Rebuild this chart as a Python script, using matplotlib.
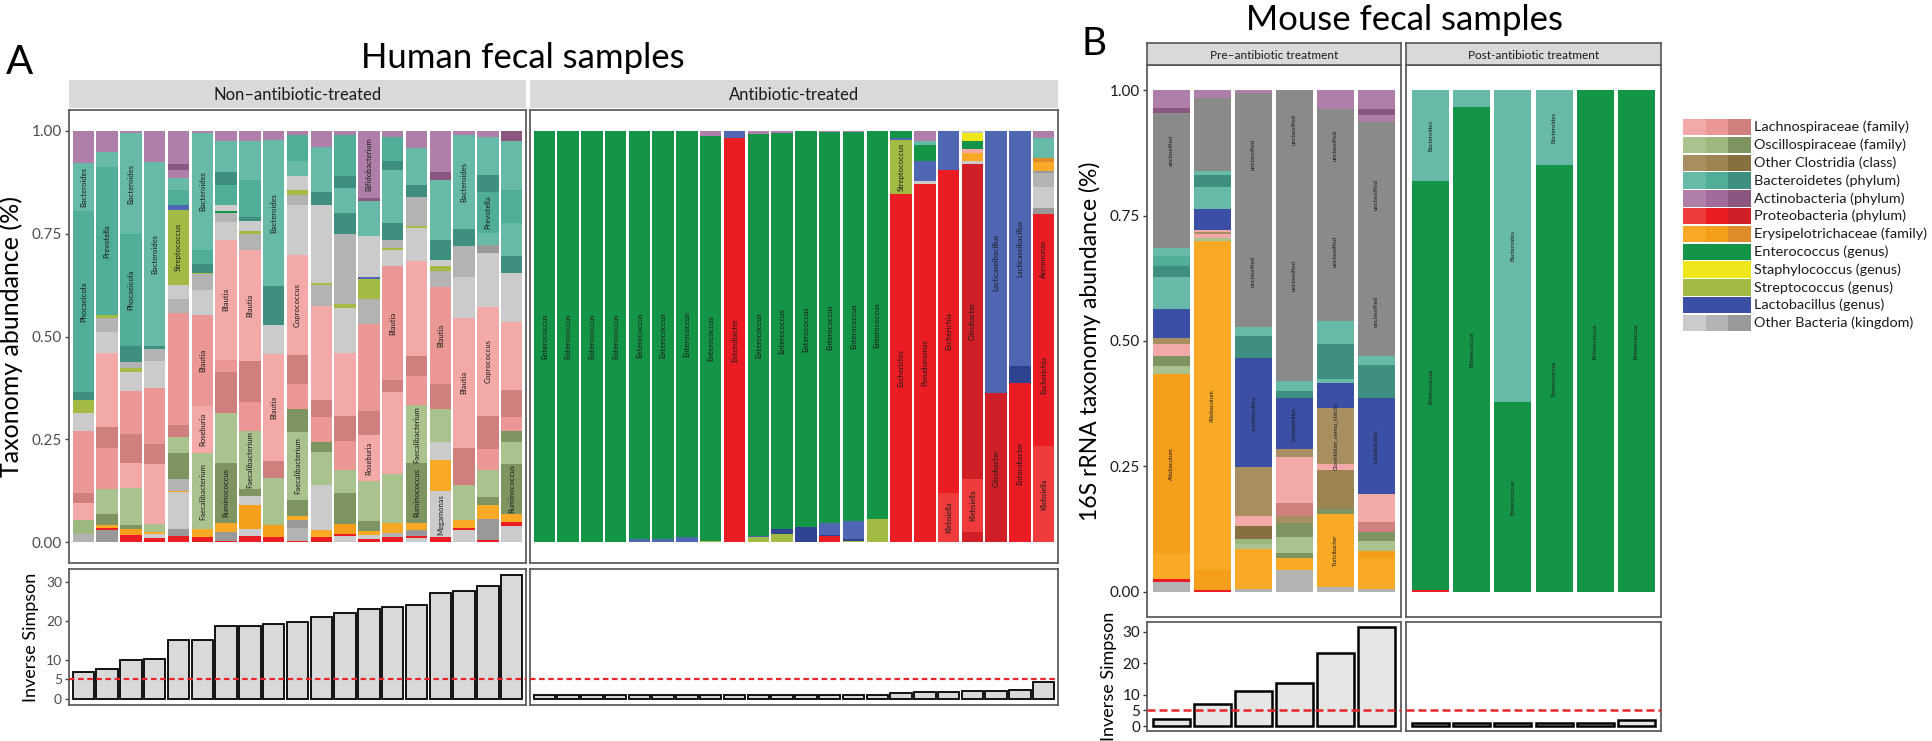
import matplotlib
matplotlib.use("Agg")
import matplotlib.pyplot as plt
from matplotlib.patches import Rectangle

plt.rcParams['font.family'] = ['Lato', 'DejaVu Sans']

# ---------------- colours per taxon group / shade ----------------
COLORS = {
    'L1': '#f2a9a8', 'L2': '#ea9795', 'L3': '#cf7f7d',
    'O1': '#aac28e', 'O2': '#9db87f', 'O3': '#7e9562',
    'C1': '#a88f62', 'C2': '#9b8352', 'C3': '#86703f',
    'B1': '#67baa7', 'B2': '#4fad98', 'B3': '#3f8f80',
    'A1': '#b07fa9', 'A2': '#a06b98', 'A3': '#8b5680',
    'P1': '#ef3b3b', 'P2': '#ec1c24', 'P3': '#d01f26',
    'E1': '#f8aa26', 'E2': '#f59e1b', 'E3': '#dd8c2a',
    'N': '#149447', 'S': '#efe71c', 'T': '#a3bb45',
    'K1': '#4f66b2', 'K2': '#2f4390', 'K3': '#3b4fa5',
    'G1': '#cbcbcb', 'G2': '#b3b3b3', 'G3': '#999999',
    'U': '#8a8a8a',
}

LEGEND_LABELS = ['Lachnospiraceae (family)', 'Oscillospiraceae (family)',
                 'Other Clostridia (class)', 'Bacteroidetes (phylum)',
                 'Actinobacteria (phylum)', 'Proteobacteria (phylum)',
                 'Erysipelotrichaceae (family)', 'Enterococcus (genus)',
                 'Staphylococcus (genus)', 'Streptococcus (genus)',
                 'Lactobacillus (genus)', 'Other Bacteria (kingdom)']
LEGEND_CODES = [['L1', 'L2', 'L3'], ['O1', 'O2', 'O3'], ['C1', 'C2', 'C3'],
                ['B1', 'B2', 'B3'], ['A1', 'A2', 'A3'], ['P1', 'P2', 'P3'],
                ['E1', 'E2', 'E3'], ['N'], ['S'], ['T'], ['K3'],
                ['G1', 'G2', 'G3']]

# ---------------- Human, non-antibiotic-treated (bottom -> top) ----------------
human_non = [
    [('G2', .02), ('O2', .035), ('L1', .04), ('L3', .025), ('L2', .15), ('G1', .045), ('T', .03), ('B3', .02),
     ('B2', .44, 'Phocaeicola'), ('B1', .117, 'Bacteroides'), ('A1', .078)],
    [('G3', .03), ('P2', .005), ('E1', .008), ('O3', .025), ('O1', .062), ('L2', .1), ('L3', .05), ('L1', .18),
     ('G1', .05), ('G2', .035), ('T', .007), ('B2', .36, 'Prevotella'), ('B1', .035), ('A1', .053)],
    [('P2', .018), ('E2', .015), ('O3', .01), ('O1', .09), ('L1', .06), ('L3', .07), ('L2', .105), ('G1', .045),
     ('T', .01), ('G2', .015), ('B3', .04), ('B2', .27, 'Phocaeicola'), ('B1', .245, 'Bacteroides'), ('A1', .007)],
    [('P2', .01), ('G1', .01), ('E1', .005), ('O1', .02), ('L1', .145), ('L3', .05), ('L2', .135), ('G1', .065),
     ('G2', .03), ('B3', .008), ('B1', .445, 'Bacteroides'), ('A1', .077)],
    [('P2', .016), ('G3', .016), ('G1', .09), ('E2', .004), ('G2', .027), ('O3', .063), ('O1', .04), ('L3', .03),
     ('L2', .27), ('G2', .035), ('G1', .034), ('T', .183, 'Streptococcus'), ('K1', .012), ('B2', .035),
     ('B1', .03), ('A1', .02), ('A3', .015), ('A1', .08)],
    [('P2', .012), ('E1', .02), ('O1', .185, 'Faecalibacterium'), ('L1', .115, 'Roseburia'), ('L2', .22, 'Blautia'),
     ('G1', .06), ('G2', .04), ('T', .003), ('B3', .02), ('B2', .035), ('B1', .285, 'Bacteroides'), ('A1', .005)],
    [('P2', .004), ('G3', .022), ('E1', .02), ('O3', .148, 'Ruminococcus'), ('O1', .12), ('L3', .1), ('L2', .03),
     ('L1', .29, 'Blautia'), ('G1', .045), ('G2', .02), ('N', .005), ('G1', .015), ('B2', .05), ('B3', .03),
     ('B1', .075), ('A1', .026)],
    [('P2', .016), ('G1', .016), ('E2', .06), ('G1', .02), ('O3', .018), ('O1', .14, 'Faecalibacterium'),
     ('L2', .07), ('L3', .1), ('L1', .27, 'Blautia'), ('G2', .04), ('T', .005), ('G1', .025), ('B3', .01),
     ('B2', .09), ('B1', .095), ('A1', .025)],
    [('P2', .012), ('E2', .03), ('O1', .115), ('L3', .04), ('L1', .26, 'Blautia'), ('G1', .07), ('B3', .095),
     ('B1', .355, 'Bacteroides'), ('A1', .023)],
    [('P2', .004), ('G2', .03), ('G3', .02), ('E1', .01), ('O3', .04), ('O1', .165, 'Faecalibacterium'),
     ('O3', .055), ('L2', .06), ('L3', .07), ('L1', .245, 'Coprococcus'), ('G1', .12), ('G2', .024), ('T', .012),
     ('G1', .035), ('B1', .035), ('B2', .065), ('A1', .01)],
    [('P2', .012), ('E1', .018), ('G1', .11), ('O1', .08), ('O3', .025), ('L2', .06), ('L3', .04), ('L1', .23),
     ('G2', .05), ('T', .005), ('G1', .19), ('B3', .03), ('B1', .11), ('A1', .04)],
    [('G1', .015), ('P2', .005), ('E2', .025), ('O3', .075), ('O1', .057), ('L2', .07), ('L3', .06), ('L1', .153),
     ('G1', .11), ('T', .01), ('G2', .17), ('B3', .05), ('B1', .06), ('B3', .03), ('B2', .1), ('A1', .01)],
    [('P2', .008), ('G1', .01), ('E1', .01), ('O3', .025), ('O1', .097), ('L1', .11, 'Roseburia'), ('L3', .06),
     ('L2', .21), ('G2', .06), ('T', .05), ('K1', .005), ('G1', .1), ('B1', .085), ('A3', .006),
     ('A1', .164, 'Bifidobacterium')],
    [('P2', .012), ('G2', .01), ('E1', .025), ('O1', .118), ('L1', .2), ('L3', .03), ('L2', .275, 'Blautia'),
     ('G1', .04), ('T', .005), ('G2', .02), ('B3', .04), ('B1', .13), ('B3', .02), ('B2', .06), ('A1', .015)],
    [('G1', .01), ('P2', .005), ('G3', .015), ('E1', .018), ('O3', .145, 'Ruminococcus'),
     ('O1', .14, 'Faecalibacterium'), ('L2', .07), ('L3', .05), ('L1', .23), ('G1', .08), ('T', .005),
     ('G2', .07), ('B3', .03), ('B1', .09), ('A1', .042)],
    [('P2', .012), ('G1', .113, 'Megamonas'), ('E1', .075), ('G1', .045), ('O1', .08), ('L3', .06),
     ('L2', .235, 'Blautia'), ('G2', .04), ('T', .01), ('G1', .015), ('B3', .05), ('B1', .145), ('A3', .02),
     ('A1', .1)],
    [('G1', .03), ('P2', .005), ('E1', .02), ('O1', .085), ('L3', .09), ('L1', .315, 'Blautia'), ('G1', .1),
     ('G2', .075), ('B3', .04), ('B1', .23, 'Bacteroides'), ('A1', .01)],
    [('P2', .006), ('G3', .05), ('E1', .035), ('O3', .02), ('O1', .066), ('L2', .05), ('L3', .08),
     ('L1', .265, 'Coprococcus'), ('G1', .13), ('G3', .02), ('B1', .03), ('B2', .1, 'Prevotella'), ('B3', .04),
     ('B1', .092), ('A1', .016)],
    [('G1', .04), ('P2', .01), ('E1', .02), ('O3', .12, 'Ruminococcus'), ('O1', .055), ('O3', .025), ('L2', .035),
     ('L3', .065), ('L1', .165), ('G1', .12), ('B3', .04), ('B1', .08), ('B2', .08), ('B1', .12), ('A3', .025)],
]

# ---------------- Human, antibiotic-treated ----------------
human_abx = [
    [('N', 1.0, 'Enterococcus')],
    [('N', 1.0, 'Enterococcus')],
    [('N', 1.0, 'Enterococcus')],
    [('N', 1.0, 'Enterococcus')],
    [('K1', .008), ('N', .992, 'Enterococcus')],
    [('K1', .008), ('N', .992, 'Enterococcus')],
    [('K1', .012), ('N', .988, 'Enterococcus')],
    [('T', .004), ('N', .984, 'Enterococcus'), ('A1', .012)],
    [('P2', .982, 'Enterobacter'), ('K1', .018)],
    [('T', .013), ('K1', .003), ('N', .976, 'Enterococcus'), ('A1', .008)],
    [('T', .02), ('K2', .012), ('N', .963, 'Enterococcus'), ('A1', .005)],
    [('K2', .037), ('N', .963, 'Enterococcus')],
    [('P2', .015), ('K2', .003), ('K1', .03), ('N', .948, 'Enterococcus'), ('A1', .004)],
    [('T', .003), ('K2', .005), ('K1', .045), ('N', .943, 'Enterococcus'), ('A1', .004)],
    [('T', .058), ('N', .94, 'Enterococcus'), ('A1', .002)],
    [('P2', .847, 'Escherichia'), ('T', .13, 'Streptococcus'), ('K1', .005), ('N', .018)],
    [('P2', .871, 'Pseudomonas'), ('G1', .006), ('K1', .05), ('N', .037), ('B1', .01), ('A1', .026)],
    [('P1', .12, 'Klebsiella'), ('P2', .785, 'Escherichia'), ('K1', .095)],
    [('P3', .025), ('P1', .13, 'Klebsiella'), ('P3', .765, 'Citrobacter'), ('G1', .005), ('E1', .02),
     ('L1', .01), ('N', .02), ('S', .02), ('G1', .005)],
    [('P3', .362, 'Citrobacter'), ('K1', .638, 'Lacticaseibacillus')],
    [('P2', .386, 'Enterobacter'), ('K2', .043), ('K1', .571, 'Lacticaseibacillus')],
    [('P1', .235, 'Klebsiella'), ('P2', .345, 'Escherichia'), ('P2', .218, 'Aeromonas'), ('G3', .015),
     ('G1', .05), ('G2', .035), ('G3', .005), ('E1', .02), ('E3', .01), ('B1', .05), ('A1', .017)],
]

# ---------------- Mouse ----------------
mouse_pre = [
    [('G2', .02), ('P2', .005), ('E1', .05), ('E2', .36, 'Allobaculum'), ('O1', .015), ('O3', .02), ('L1', .025),
     ('C1', .01), ('K3', .059), ('B1', .063), ('B3', .023), ('B2', .019), ('B1', .016), ('U', .12),
     ('U', .15, 'unclassified'), ('A3', .01), ('A1', .035)],
    [('P2', .004), ('E2', .04), ('E1', .656, 'Allobaculum'), ('O1', .006), ('L1', .007), ('C1', .004),
     ('L1', .005), ('K3', .042), ('B1', .042), ('B3', .024), ('B1', .008), ('U', .147), ('A1', .015)],
    [('G2', .005), ('E1', .08), ('O1', .01), ('O2', .01), ('C3', .027), ('L1', .019), ('C1', .097),
     ('K3', .219, 'Lactobacillus'), ('B3', .043), ('B1', .018), ('U', .222, 'unclassified'),
     ('U', .245, 'unclassified'), ('A1', .005)],
    [('G2', .044), ('E1', .023), ('O3', .011), ('O1', .031), ('O3', .028), ('C1', .014), ('L3', .026),
     ('L1', .092), ('C1', .015), ('K3', .103, 'Lactobacillus'), ('B3', .013), ('B1', .021),
     ('U', .42, 'unclassified'), ('U', .159, 'unclassified')],
    [('G2', .01), ('E1', .145, 'Turicibacter'), ('O3', .01), ('C2', .077), ('L1', .013),
     ('C1', .111, 'Clostridium_sensu_stricto'), ('K3', .051), ('B1', .008), ('B3', .069), ('B1', .045),
     ('U', .28, 'unclassified'), ('U', .143, 'unclassified'), ('A1', .038)],
    [('G2', .005), ('E1', .062), ('E2', .015), ('O1', .019), ('O3', .019), ('L3', .019), ('L1', .057),
     ('K3', .191, 'Lactobacillus'), ('B3', .065), ('B1', .019), ('U', .175, 'unclassified'),
     ('U', .291, 'unclassified'), ('A1', .013), ('A3', .013), ('A1', .037)],
]
mouse_post = [
    [('P2', .003), ('N', .815, 'Enterococcus'), ('B1', .182, 'Bacteroides')],
    [('N', .966, 'Enterococcus'), ('B1', .034)],
    [('N', .379, 'Enterococcus'), ('B1', .621, 'Bacteroides')],
    [('N', .851, 'Enterococcus'), ('B1', .149, 'Bacteroides')],
    [('N', 1.0, 'Enterococcus')],
    [('N', 1.0, 'Enterococcus')],
]

# ---------------- Inverse Simpson ----------------
invsimp_human_non = [6.8, 7.7, 10.0, 10.3, 15.0, 15.1, 18.7, 18.7, 19.2, 19.6, 21.0, 21.9, 23.1, 23.5,
                     24.0, 27.2, 27.6, 28.9, 31.7]
invsimp_human_abx = [1.0, 1.0, 1.0, 1.0, 1.0, 1.0, 1.0, 1.0, 1.0, 1.0, 1.0, 1.0, 1.0, 1.0, 1.0,
                     1.45, 1.7, 1.7, 1.9, 2.0, 2.25, 4.3]
invsimp_mouse_pre = [2.4, 7.1, 11.3, 13.7, 23.3, 31.6]
invsimp_mouse_post = [1.0, 1.0, 1.0, 1.1, 1.1, 1.9]
INV_TICKS = [0, 5, 10, 20, 30]
THRESHOLD = 5

W, H = 1933, 741
fig = plt.figure(figsize=(W / 100, H / 100), dpi=100)


def px_axes(x0, y0, x1, y1):
    return fig.add_axes([x0 / W, 1 - y1 / H, (x1 - x0) / W, (y1 - y0) / H])


def style_frame(ax, color='#5e5e5e', lw=1.3):
    for s in ax.spines.values():
        s.set_color(color)
        s.set_linewidth(lw)
    ax.set_xticks([])


def draw_stack(ax, samples, label_size):
    for i, segs in enumerate(samples, start=1):
        bottom = 0.0
        for seg in segs:
            code, val = seg[0], seg[1]
            ax.bar(i, val, bottom=bottom, width=0.9, color=COLORS[code], linewidth=0)
            if len(seg) > 2:
                ax.text(i, bottom + val / 2, seg[2], rotation=90, ha='center', va='center',
                        fontsize=label_size, color='#1a1a1a')
            bottom += val
    ax.set_xlim(0.4, len(samples) + 0.6)
    ax.set_ylim(-0.05, 1.05)
    style_frame(ax)


def draw_inv(ax, values, ymax, fill, elw):
    x = list(range(1, len(values) + 1))
    ax.bar(x, values, width=0.9, color=fill, edgecolor='black', linewidth=elw)
    ax.set_xlim(0.4, len(values) + 0.6)
    ax.set_ylim(-0.05 * ymax, 1.05 * ymax)
    style_frame(ax)


def strip(x0, y0, x1, y1, text, size, border):
    ax = px_axes(x0, y0, x1, y1)
    ax.set_facecolor('#d9d9d9')
    ax.set_xticks([]); ax.set_yticks([])
    for s in ax.spines.values():
        s.set_visible(border)
        s.set_color('#555555')
        s.set_linewidth(1.2)
    ax.text(0.5, 0.45, text, ha='center', va='center', fontsize=size, color='#1a1a1a',
            transform=ax.transAxes)


# ================= Panel A =================
a_top_l = px_axes(69, 110, 526, 563)
a_top_r = px_axes(530, 110, 1058, 563)
draw_stack(a_top_l, human_non, 5.5)
draw_stack(a_top_r, human_abx, 5.5)
a_top_l.set_yticks([0, 0.25, 0.5, 0.75, 1.0])
a_top_l.set_yticklabels(['0.00', '0.25', '0.50', '0.75', '1.00'])
a_top_l.tick_params(axis='y', length=3, width=1, color='#444444', labelsize=11,
                    labelcolor='#4d4d4d', pad=2)
a_top_r.set_yticks([])
a_top_l.set_ylabel('Taxonomy abundance (%)', fontsize=18, labelpad=6)

ymax_a = max(invsimp_human_non + invsimp_human_abx)
a_bot_l = px_axes(69, 569, 526, 705)
a_bot_r = px_axes(530, 569, 1058, 705)
draw_inv(a_bot_l, invsimp_human_non, ymax_a, '#d9d9d9', 1.3)
draw_inv(a_bot_r, invsimp_human_abx, ymax_a, '#d9d9d9', 1.3)
for ax in (a_bot_l, a_bot_r):
    ax.axhline(THRESHOLD, color='#e8262b', lw=1.6, ls=(0, (2.5, 1.6)), zorder=3)
a_bot_l.set_yticks(INV_TICKS)
a_bot_l.tick_params(axis='y', length=3, width=1, color='#444444', labelsize=10,
                    labelcolor='#4d4d4d', pad=2)
a_bot_r.set_yticks([])
a_bot_l.set_ylabel('Inverse Simpson', fontsize=13, labelpad=5)

strip(69, 80, 526, 108, 'Non–antibiotic-treated', 12, False)
strip(530, 80, 1058, 108, 'Antibiotic-treated', 12, False)

fig.text(523 / W, 1 - 68 / H, 'Human fecal samples', ha='center', va='baseline', fontsize=25)
fig.text(6 / W, 1 - 74 / H, 'A', ha='left', va='baseline', fontsize=29)

# ================= Panel B =================
b_top_l = px_axes(1147, 65, 1401, 617)
b_top_r = px_axes(1406, 65, 1661, 617)
draw_stack(b_top_l, mouse_pre, 4.3)
draw_stack(b_top_r, mouse_post, 4.3)
b_top_l.set_yticks([0, 0.25, 0.5, 0.75, 1.0])
b_top_l.set_yticklabels(['0.00', '0.25', '0.50', '0.75', '1.00'])
b_top_l.tick_params(axis='y', length=3, width=1, color='#333333', labelsize=11,
                    labelcolor='#1a1a1a', pad=2)
b_top_r.set_yticks([])
b_top_l.set_ylabel('16S rRNA taxonomy abundance (%)', fontsize=16.5, labelpad=6)

ymax_b = max(invsimp_mouse_pre + invsimp_mouse_post)
b_bot_l = px_axes(1147, 622, 1401, 731)
b_bot_r = px_axes(1406, 622, 1661, 731)
draw_inv(b_bot_l, invsimp_mouse_pre, ymax_b, '#e6e6e6', 1.8)
draw_inv(b_bot_r, invsimp_mouse_post, ymax_b, '#e6e6e6', 1.8)
for ax in (b_bot_l, b_bot_r):
    ax.axhline(THRESHOLD, color='#e8262b', lw=1.8, ls=(0, (3.2, 1.6)), zorder=3)
b_bot_l.set_yticks(INV_TICKS)
b_bot_l.tick_params(axis='y', length=3, width=1, color='#333333', labelsize=11,
                    labelcolor='#1a1a1a', pad=2)
b_bot_r.set_yticks([])
b_bot_l.set_ylabel('Inverse Simpson', fontsize=13, labelpad=4)

strip(1147, 43, 1401, 65, 'Pre–antibiotic treatment', 8.5, True)
strip(1406, 43, 1661, 65, 'Post-antibiotic treatment', 8.5, True)

fig.text(1405 / W, 1 - 30 / H, 'Mouse fecal samples', ha='center', va='baseline', fontsize=25)
fig.text(1082 / W, 1 - 55 / H, 'B', ha='left', va='baseline', fontsize=28)

# ================= Legend =================
pitch = 17.8
leg = px_axes(1683, 119, 1933, 119 + pitch * len(LEGEND_LABELS))
leg.set_xlim(0, 250)
leg.set_ylim(pitch * len(LEGEND_LABELS), 0)
leg.axis('off')
sw = 68.0
for i, (lab, codes) in enumerate(zip(LEGEND_LABELS, LEGEND_CODES)):
    y0 = i * pitch
    w = sw / len(codes)
    for j, c in enumerate(codes):
        leg.add_patch(Rectangle((j * w, y0), w, pitch - 1.5, facecolor=COLORS[c], edgecolor='none'))
    leg.text(sw + 3, y0 + (pitch - 1.5) / 2, lab, ha='left', va='center', fontsize=10.4, color='#1a1a1a')

fig.savefig('out.png', dpi=100)
